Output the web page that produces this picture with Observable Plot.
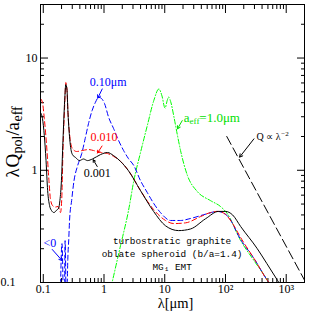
<!DOCTYPE html>
<html><head><meta charset="utf-8">
<script src="https://cdn.jsdelivr.net/npm/d3@7"></script>
<script src="https://cdn.jsdelivr.net/npm/@observablehq/plot@0.6"></script>
<style>body{margin:0;background:#fff}svg{display:block}</style>
</head><body><div id="chart"></div>
<script>
// ---- data ----
const blackLam = [0.09,0.097,0.104,0.111,0.118,0.127,0.137,0.150,0.165,0.179,0.188,0.199,0.211,0.225,0.235,0.245,0.255,0.276,0.302,0.34,0.395,0.459,0.535,0.644,0.876,1.14,1.44,1.87,2.53,3.98,6.55,10.3,16.9,26.6,47,77,100,131,178,334,478,722,810];
const blackVal = [3.27,2.89,2.04,1.22,0.66,0.485,0.437,0.42,0.44,0.46,0.54,0.81,1.84,4.18,5.8,5.3,3.27,1.77,1.38,1.30,1.22,1.26,1.22,1.26,1.38,1.44,1.35,1.20,0.99,0.66,0.43,0.32,0.29,0.30,0.37,0.43,0.43,0.40,0.315,0.20,0.148,0.104,0.094];

const redLam = [0.09,0.097,0.104,0.115,0.124,0.131,0.142,0.159,0.175,0.192,0.201,0.211,0.225,0.235,0.245,0.255,0.276,0.302,0.354,0.44,0.555,0.67,0.876,1.14,1.44,1.87,2.53,3.98,6.55,10.3,14,22,39,56.5,74,97,131,178,294,520,553];
const redVal = [4.36,4.0,2.89,1.5,0.81,0.56,0.485,0.47,0.476,0.42,0.54,1.5,3.77,6.05,5.3,3.27,1.92,1.56,1.47,1.5,1.53,1.5,1.44,1.41,1.33,1.20,0.99,0.66,0.447,0.357,0.335,0.34,0.387,0.42,0.43,0.41,0.335,0.251,0.164,0.1,0.096];

// negative values (shown as "<0") drop below the axis; NaN breaks the line
const blueLam = [0.1886,0.203,0.2149,0.219,0.2233,0.2288,0.2377,0.2405,0.2432,0.2534,0.2625,0.271,0.293,0.321,0.368,0.43,0.49,0.555,0.636,0.717,0.82,0.91,1.02,1.19,1.44,1.74,2.1,2.53,3.1,3.98,5.16,6.6,8.5,12.5,18.2,26.6,50,73,107,178,294,520,553];
const blueVal = [0.05,0.222,0.05,NaN,0.05,0.236,0.05,NaN,0.05,0.16,0.24,0.36,0.537,0.81,1.1,1.41,1.92,2.6,3.4,4.0,4.47,4.36,3.93,2.97,2.35,1.84,1.5,1.27,1.10,0.81,0.633,0.505,0.42,0.357,0.357,0.372,0.41,0.43,0.394,0.241,0.164,0.1,0.096];

const greenLam = [1.30,1.87,2.53,3.10,3.99,5.16,6.6,8.0,9.0,10.1,11.0,11.6,12.5,14.2,16.2,18.2,23.6,34.4,56.5,83,107,178,294,490,525];
const greenVal = [0.09,0.213,0.437,0.81,1.44,2.5,4.18,5.3,4.6,3.58,4.2,4.49,4.1,2.97,2.04,1.5,0.90,0.646,0.537,0.475,0.411,0.236,0.157,0.104,0.097];

const qLam = [105, 2000];
const qVal = [2.0, 0.105];

// ticks
const xMajor = [0.1, 1, 10, 100, 1000];
const xMajorLabels = ["0.1", "1", "10", "10²", "10³"];
const xMinor = [0.2,0.3,0.4,0.5,0.6,0.7,0.8,0.9,2,3,4,5,6,7,8,9,20,30,40,50,60,70,80,90,200,300,400,500,600,700,800,900];
const yMajor = [1, 10];
const yMajorLabels = ["1", "10"];
const yBottomLabel = ["0.1"];
const yBottomTick = [0.1];
const yMinor = [0.2,0.3,0.4,0.5,0.6,0.7,0.8,0.9,2,3,4,5,6,7,8,9,20];

// annotations
const labelText = ["0.10μm", "0.010", "0.001", "<0"];
const labelLam = [1.17, 0.995, 0.773, 0.129];
const labelVal = [6.05, 1.97, 0.941, 0.224];
const labelColor = ["#0000ff", "#ff0000", "#000000", "#0000ff"];

const arrowLam1 = [0.934, 0.927, 0.773, 0.1404, 19.4, 294];
const arrowVal1 = [5.3, 1.645, 1.08, 0.197, 2.77, 1.905];
const arrowLam2 = [0.79, 0.782, 0.664, 0.2038, 16.2, 171];
const arrowVal2 = [4.4, 1.426, 1.24, 0.157, 2.34, 1.31];
const arrowColor = ["#0000ff", "#ff0000", "#000000", "#0000ff", "#00e000", "#000000"];

const greenLabelPos = [20.6, 2.93];
const qLabelPos = [325, 2.0];
const blockLines = ["turbostratic graphite", "oblate spheroid (b/a=1.4)", "MG₁ EMT"];
const blockLam = 13.2;
const blockVal = [0.233, 0.178, 0.137];

// ---- build ----
const toRows = (L, V) => L.map((l, i) => ({lam: l, v: V[i]}));
const serif = "Liberation Serif, Times New Roman, serif";
const noText = () => "";

const chart = Plot.plot({
  width: 314, height: 312,
  marginLeft: 40, marginRight: 10, marginTop: 4, marginBottom: 30,
  style: {fontFamily: serif, fontSize: "12px", background: "white"},
  x: {type: "log", domain: [0.09, 2000], label: null},
  y: {type: "log", domain: [0.1, 30], label: null},
  color: {type: "identity"},
  marks: [
    // inward ticks on all four sides
    Plot.axisX(xMajor, {anchor: "bottom", tickSize: 8, dy: -8, tickFormat: noText, label: null}),
    Plot.axisX(xMinor, {anchor: "bottom", tickSize: 4, dy: -4, tickFormat: noText, label: null}),
    Plot.axisX(xMajor, {anchor: "top", tickSize: 8, dy: 8, tickFormat: noText, label: null}),
    Plot.axisX(xMinor, {anchor: "top", tickSize: 4, dy: 4, tickFormat: noText, label: null}),
    Plot.axisY(yMajor, {anchor: "left", tickSize: 8, dx: 8, tickFormat: noText, label: null}),
    Plot.axisY(yMinor, {anchor: "left", tickSize: 4, dx: 4, tickFormat: noText, label: null}),
    Plot.axisY(yMajor, {anchor: "right", tickSize: 8, dx: -8, tickFormat: noText, label: null}),
    Plot.axisY(yMinor, {anchor: "right", tickSize: 4, dx: -4, tickFormat: noText, label: null}),
    // tick labels
    Plot.axisX(xMajor, {anchor: "bottom", tickSize: 0, tickPadding: 2, fontSize: 12, label: null,
      tickFormat: d => xMajorLabels[xMajor.indexOf(d)]}),
    Plot.axisY(yMajor, {anchor: "left", tickSize: 0, tickPadding: 3, fontSize: 12, label: null,
      tickFormat: d => yMajorLabels[yMajor.indexOf(d)]}),
    Plot.text(yBottomLabel, {y: (d, i) => yBottomTick[i], frameAnchor: "left", dx: -25,
      textAnchor: "end", fontSize: 12}),
    // axis titles
    Plot.text(["λ[μm]"], {frameAnchor: "bottom", dx: 3, dy: 21, fontSize: 14.5, lineAnchor: "middle"}),
    Plot.text(["λ"], {frameAnchor: "left", dx: -28, dy: 34, rotate: -90, textAnchor: "start", lineAnchor: "middle", fontSize: 19}),
    Plot.text(["Q"], {frameAnchor: "left", dx: -28, dy: 24, rotate: -90, textAnchor: "start", lineAnchor: "middle", fontSize: 19}),
    Plot.text(["pol"], {frameAnchor: "left", dx: -23, dy: 10, rotate: -90, textAnchor: "start", lineAnchor: "middle", fontSize: 14}),
    Plot.text(["/"], {frameAnchor: "left", dx: -28, dy: -8, rotate: -90, textAnchor: "start", lineAnchor: "middle", fontSize: 19}),
    Plot.text(["a"], {frameAnchor: "left", dx: -28, dy: -13, rotate: -90, textAnchor: "start", lineAnchor: "middle", fontSize: 19}),
    Plot.text(["eff"], {frameAnchor: "left", dx: -23, dy: -22, rotate: -90, textAnchor: "start", lineAnchor: "middle", fontSize: 14}),
    // curves
    Plot.line(toRows(greenLam, greenVal), {x: "lam", y: "v", stroke: "#00ff00", strokeWidth: 1, strokeDasharray: "5,2,1,2", curve: "monotone-x", clip: true}),
    Plot.line(toRows(blueLam, blueVal), {x: "lam", y: "v", stroke: "#0000ff", strokeWidth: 1, strokeDasharray: "5,3", curve: "monotone-x", clip: true}),
    Plot.line(toRows(redLam, redVal), {x: "lam", y: "v", stroke: "#ff0000", strokeWidth: 1, strokeDasharray: "5,3", curve: "monotone-x", clip: true}),
    Plot.line(toRows(blackLam, blackVal), {x: "lam", y: "v", stroke: "#000000", strokeWidth: 1, curve: "monotone-x", clip: true}),
    Plot.line(toRows(qLam, qVal), {x: "lam", y: "v", stroke: "#000000", strokeWidth: 1, strokeDasharray: "9,4", clip: true}),
    // annotations
    Plot.arrow(arrowLam1, {x1: (d, i) => arrowLam1[i], y1: (d, i) => arrowVal1[i], x2: (d, i) => arrowLam2[i], y2: (d, i) => arrowVal2[i],
      stroke: (d, i) => arrowColor[i], headLength: 5, strokeWidth: 1}),
    Plot.text(labelText, {x: (d, i) => labelLam[i], y: (d, i) => labelVal[i], fill: (d, i) => labelColor[i], fontSize: 12}),
    Plot.text(["a"], {x: [greenLabelPos[0]], y: [greenLabelPos[1]], fill: "#00e000", fontSize: 13, textAnchor: "start"}),
    Plot.text(["eff"], {x: [greenLabelPos[0]], y: [greenLabelPos[1]], fill: "#00e000", fontSize: 9, textAnchor: "start", dx: 5.8, dy: 3.5}),
    Plot.text(["=1.0μm"], {x: [greenLabelPos[0]], y: [greenLabelPos[1]], fill: "#00e000", fontSize: 13, textAnchor: "start", dx: 15.5}),
    Plot.text(["Q ∝ λ"], {x: [qLabelPos[0]], y: [qLabelPos[1]], fontSize: 10, textAnchor: "start"}),
    Plot.text(["−2"], {x: [qLabelPos[0]], y: [qLabelPos[1]], fontSize: 7, textAnchor: "start", dx: 24.7, dy: -3}),
    Plot.text(blockLines, {x: blockLam, y: (d, i) => blockVal[i], fontFamily: "Liberation Mono, Courier New, monospace", fontSize: 9.4}),
    Plot.frame({stroke: "black"})
  ]
});
document.getElementById("chart").appendChild(chart);
</script>
</body></html>
